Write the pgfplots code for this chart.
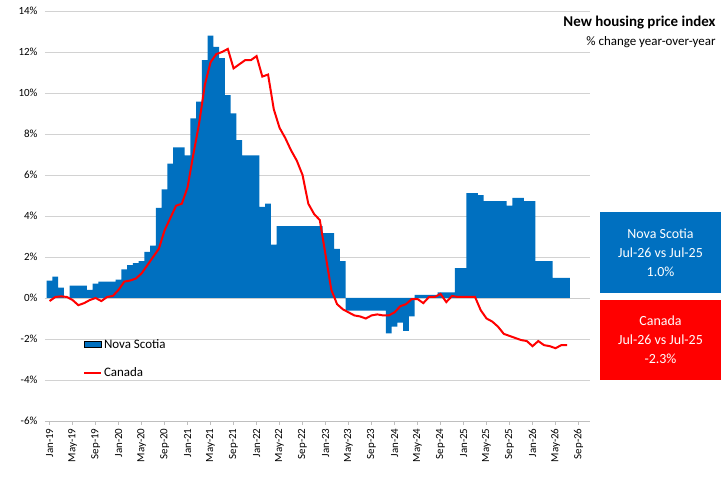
\documentclass[border=0pt]{standalone}
\usepackage{pgfplots}
\pgfplotsset{compat=1.18}
\usepackage{fontspec}
\setmainfont{Carlito}
\definecolor{nsblue}{HTML}{0070C0}
\definecolor{cared}{HTML}{FF0000}
\begin{document}
\begin{tikzpicture}[x=1bp,y=1bp]
\useasboundingbox (-45,-60) rectangle (676,421);
\begin{axis}[
  at={(0,0)}, anchor=south west, scale only axis,
  width=545bp, height=410bp,
  xmin=-0.8, xmax=94, ymin=-6, ymax=14,
  ytick={-6,-4,...,14},
  yticklabel={\pgfmathprintnumber{\tick}\%},
  /pgf/number format/assume math mode=true,
  xtick={0,4,...,92},
  xticklabels={Jan-19,May-19,Sep-19,Jan-20,May-20,Sep-20,Jan-21,May-21,Sep-21,Jan-22,May-22,Sep-22,Jan-23,May-23,Sep-23,Jan-24,May-24,Sep-24,Jan-25,May-25,Sep-25,Jan-26,May-26,Sep-26},
  xticklabel style={rotate=90, anchor=east},
  ticklabel style={font=\fontsize{11}{12}\selectfont},
  ymajorgrids, grid style={gray!35},
  axis x line*=bottom, axis y line*=left,
  y axis line style={draw=none},
  x axis line style={gray!50}, xtick style={gray!50},
  major tick length=4bp, tick align=outside,
  ytick style={draw=none},
  legend style={at={(0.064,0.21)}, anchor=north west, draw=none, fill=none,
    font=\fontsize{13}{14}\selectfont, row sep=14bp},
  legend cell align=left,
  clip=false,
]
\draw[gray!40] (axis cs:-0.8,0) -- (axis cs:94,0);
\addplot[ybar, bar width=1, bar shift=0, fill=nsblue, draw=none, area legend] coordinates {
(0,0.85)(1,1.04)(2,0.5)(3,0.0)(4,0.6)(5,0.6)(6,0.6)(7,0.4)(8,0.7)(9,0.8)(10,0.8)(11,0.8)
(12,0.9)(13,1.4)(14,1.6)(15,1.7)(16,1.8)(17,2.25)(18,2.55)(19,4.4)(20,5.3)(21,6.55)(22,7.35)(23,7.35)
(24,6.96)(25,8.76)(26,9.58)(27,11.6)(28,12.8)(29,12.25)(30,11.7)(31,9.9)(32,9.0)(33,7.7)(34,6.96)(35,6.96)
(36,6.96)(37,4.45)(38,4.6)(39,2.6)(40,3.5)(41,3.5)(42,3.5)(43,3.5)(44,3.5)(45,3.5)(46,3.5)(47,3.5)
(48,3.17)(49,3.17)(50,2.4)(51,1.8)(52,-0.62)(53,-0.62)(54,-0.62)(55,-0.62)(56,-0.62)(57,-0.62)(58,-0.62)(59,-1.72)
(60,-1.4)(61,-1.2)(62,-1.6)(63,-0.9)(64,0.15)(65,0.15)(66,0.15)(67,0.15)(68,0.28)(69,0.28)(70,0.28)(71,1.46)
(72,1.46)(73,5.12)(74,5.12)(75,5.02)(76,4.72)(77,4.72)(78,4.72)(79,4.72)(80,4.5)(81,4.88)(82,4.88)(83,4.72)
(84,4.72)(85,1.8)(86,1.8)(87,1.8)(88,0.98)(89,0.98)(90,0.98)
};
\addlegendentry{Nova Scotia}
\addplot[cared, line width=2bp, mark=none] coordinates {
(0,-0.15)(1,0.05)(2,0.08)(3,0.05)(4,-0.1)(5,-0.35)(6,-0.25)(7,-0.1)(8,0.0)(9,-0.15)(10,0.05)(11,0.1)
(12,0.4)(13,0.8)(14,0.85)(15,0.95)(16,1.2)(17,1.6)(18,2.0)(19,2.4)(20,3.3)(21,3.9)(22,4.5)(23,4.6)
(24,5.4)(25,7.0)(26,8.5)(27,10.4)(28,11.5)(29,11.9)(30,12.0)(31,12.15)(32,11.2)(33,11.4)(34,11.6)(35,11.6)
(36,11.8)(37,10.8)(38,10.9)(39,9.2)(40,8.3)(41,7.8)(42,7.2)(43,6.7)(44,6.0)(45,4.6)(46,4.1)(47,3.8)
(48,2.1)(49,0.4)(50,-0.3)(51,-0.55)(52,-0.7)(53,-0.85)(54,-0.9)(55,-1.0)(56,-0.85)(57,-0.8)(58,-0.85)(59,-0.85)
(60,-0.7)(61,-0.4)(62,-0.3)(63,-0.05)(64,-0.05)(65,-0.25)(66,0.05)(67,0.05)(68,0.2)(69,-0.2)(70,0.1)(71,0.05)
(72,0.05)(73,0.05)(74,0.05)(75,-0.6)(76,-1.0)(77,-1.15)(78,-1.4)(79,-1.75)(80,-1.85)(81,-1.95)(82,-2.05)(83,-2.1)
(84,-2.35)(85,-2.1)(86,-2.3)(87,-2.35)(88,-2.45)(89,-2.3)(90,-2.3)
};
\addlegendentry{Canada}
\end{axis}
\node[anchor=east, font=\bfseries\fontsize{15}{16}\selectfont] at (674,398) {New housing price index};
\node[anchor=east, font=\fontsize{13}{14}\selectfont] at (674,379) {\% change year-over-year};
\fill[nsblue] (555,128) rectangle (676,209);
\node[white, align=center, font=\fontsize{14}{19}\selectfont] at (615.5,168.5) {Nova Scotia\\Jul-26 vs Jul-25\\1.0\%};
\fill[cared] (555,41) rectangle (676,121);
\node[white, align=center, font=\fontsize{14}{19}\selectfont] at (615.5,81) {Canada\\Jul-26 vs Jul-25\\-2.3\%};
\end{tikzpicture}
\end{document}
